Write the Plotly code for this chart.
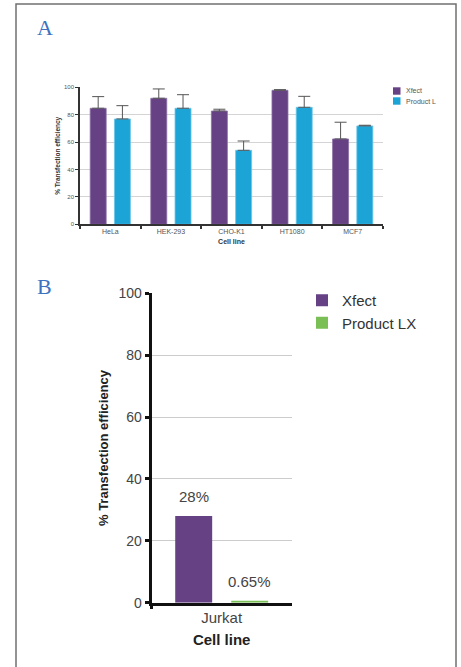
import plotly.graph_objects as go

# ---------------- data ----------------
cells_a = ["HeLa", "HEK-293", "CHO-K1", "HT1080", "MCF7"]
xfect_a = [84.7, 92.0, 82.7, 97.8, 62.3]
xfect_a_err = [8.5, 6.8, 1.3, 0.5, 12.2]
prodl_a = [76.9, 84.7, 54.0, 85.4, 71.8]
prodl_a_err = [9.7, 9.9, 6.8, 8.0, 0.5]

cells_b = ["Jurkat"]
xfect_b = [28.0]
prodlx_b = [0.65]
labels_b_x = ["28%"]
labels_b_p = ["0.65%"]

series_a = ["Xfect", "Product L"]
series_b = ["Xfect", "Product LX"]

y_ticks = [0, 20, 40, 60, 80, 100]

# ---------------- style ----------------
W, H = 461, 667
PURPLE = "#664184"
CYAN = "#1da4d7"
GREEN = "#7abf56"
FONT = "Liberation Sans, Arial, sans-serif"

def px_x(v):
    return v / W

def px_y(v):
    return 1 - v / H

fig = go.Figure()

err_style = dict(type="data", symmetric=False, color="#555555", thickness=1, width=6)

fig.add_trace(go.Bar(
    x=cells_a, y=xfect_a, name=series_a[0], marker=dict(color=PURPLE, line=dict(color="#8b71a6", width=0.8)),
    error_y=dict(array=xfect_a_err, arrayminus=[0] * len(xfect_a), **err_style),
    xaxis="x", yaxis="y", showlegend=False))
fig.add_trace(go.Bar(
    x=cells_a, y=prodl_a, name=series_a[1], marker=dict(color=CYAN, line=dict(color="#6cc6ea", width=0.8)),
    error_y=dict(array=prodl_a_err, arrayminus=[0] * len(prodl_a), **err_style),
    xaxis="x", yaxis="y", showlegend=False))

fig.add_trace(go.Bar(
    x=cells_b, y=xfect_b, name=series_b[0], marker=dict(color=PURPLE, line=dict(width=0)),
    xaxis="x2", yaxis="y2", legend="legend"))
fig.add_trace(go.Bar(
    x=cells_b, y=prodlx_b, name=series_b[1], marker=dict(color=GREEN, line=dict(width=0)),
    xaxis="x2", yaxis="y2", legend="legend"))

# compact legend for panel A (small swatches + text)
for i, (name, col) in enumerate(zip(series_a, [PURPLE, CYAN])):
    yc = 91 + 10 * i
    fig.add_shape(type="rect", xref="paper", yref="paper",
                  x0=px_x(393), x1=px_x(400.5), y0=px_y(yc + 3.7), y1=px_y(yc - 3.7),
                  line=dict(width=0), fillcolor=col)
    fig.add_annotation(x=px_x(404), y=px_y(yc), xref="paper", yref="paper", text=name,
                       showarrow=False, xanchor="left", yanchor="middle",
                       font=dict(family=FONT, size=7, color="#555555"))

# value labels for panel B
for val, txt, shift in [(xfect_b[0], labels_b_x[0], -27.7), (prodlx_b[0], labels_b_p[0], 27.7)]:
    fig.add_annotation(x=cells_b[0], y=val, xref="x2", yref="y2", text=txt, showarrow=False,
                       xshift=shift, yshift=9, yanchor="bottom",
                       font=dict(family=FONT, size=15, color="#444444"))

# panel letters
for letter, lx, ly in [("A", 45, 28), ("B", 44, 286)]:
    fig.add_annotation(x=px_x(lx), y=px_y(ly), xref="paper", yref="paper", text=letter, showarrow=False,
                       xanchor="center", yanchor="middle",
                       font=dict(family="Liberation Serif, DejaVu Serif, serif", size=22, color="#3c72c0"))

# outer border
fig.add_shape(type="rect", xref="paper", yref="paper",
              x0=px_x(16), x1=px_x(456), y0=-0.02, y1=px_y(4),
              line=dict(color="#707070", width=1.5), fillcolor="rgba(0,0,0,0)", layer="below")

fig.update_layout(
    width=W, height=H,
    margin=dict(l=0, r=0, t=0, b=0),
    paper_bgcolor="white", plot_bgcolor="white",
    barmode="group", bargap=0.2, bargroupgap=0.34,
    font=dict(family=FONT),
    xaxis=dict(domain=[px_x(80), px_x(383)], anchor="y",
               showline=True, linecolor="#333333", linewidth=1.5,
               ticks="outside", tickson="boundaries", ticklen=3, tickcolor="#333333", tickwidth=1.5,
               tickfont=dict(size=7, color="#555555"),
               title=dict(text="<b>Cell line</b>", font=dict(size=7, color="#333333"), standoff=5),
               automargin=False),
    yaxis=dict(domain=[px_y(224.3), px_y(87.3)], anchor="x", range=[0, 100],
               tickvals=y_ticks, showline=True, linecolor="#333333", linewidth=1.5,
               ticks="outside", ticklen=3, tickcolor="#333333", tickwidth=1,
               tickfont=dict(size=6, color="#555555"),
               showgrid=True, gridcolor="#d4d4d4", gridwidth=1, zeroline=False,
               title=dict(text="<b>% Transfection efficiency</b>", font=dict(size=6.5, color="#333333"), standoff=3),
               automargin=False),
    xaxis2=dict(domain=[px_x(151.7), px_x(291.7)], anchor="y2",
                showline=True, linecolor="#111111", linewidth=2.5,
                ticks="outside", tickson="boundaries", ticklen=4, tickcolor="#111111", tickwidth=2.5,
                tickfont=dict(size=15, color="#444444"),
                title=dict(text="<b>Cell line</b>", font=dict(size=15, color="#222222"), standoff=10),
                automargin=False),
    yaxis2=dict(domain=[px_y(602.7), px_y(293.3)], anchor="x2", range=[0, 100],
                tickvals=y_ticks, showline=True, linecolor="#111111", linewidth=3,
                ticks="outside", ticklen=4, tickcolor="#111111", tickwidth=2.5,
                tickfont=dict(size=14, color="#444444"),
                showgrid=True, gridcolor="#cccccc", gridwidth=1, zeroline=False,
                title=dict(text="<b>% Transfection efficiency</b>", font=dict(size=13, color="#222222"), standoff=7),
                automargin=False),
    legend=dict(x=px_x(302), y=px_y(284), xanchor="left", yanchor="top",
                font=dict(size=15, color="#333333"), bgcolor="rgba(0,0,0,0)", tracegroupgap=0),
    showlegend=True,
)

fig.write_html("out.html", config={"displayModeBar": False},
               post_script="document.body.style.margin='0';document.body.style.overflow='hidden';")
